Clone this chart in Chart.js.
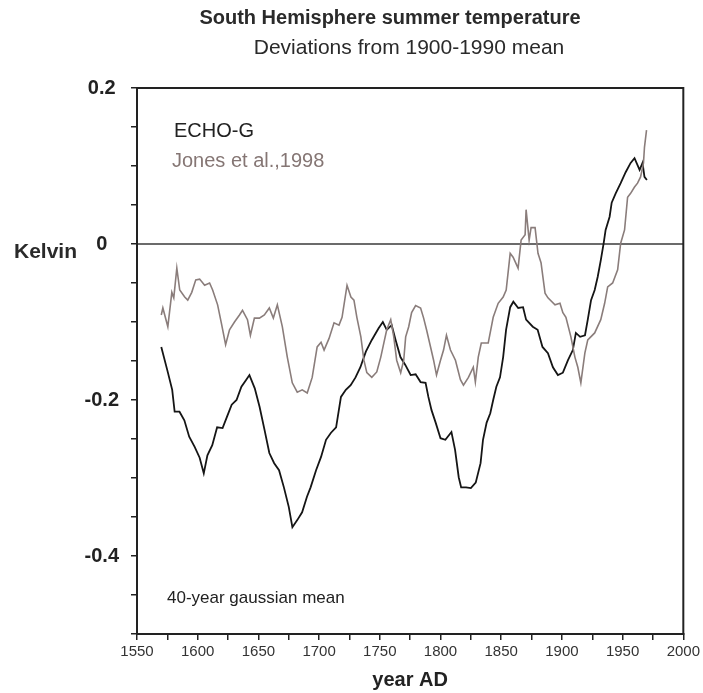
<!DOCTYPE html>
<html>
<head>
<meta charset="utf-8">
<script src="https://cdn.jsdelivr.net/npm/chart.js@4.4.1/dist/chart.umd.min.js"></script>
<style>
  html, body { margin: 0; padding: 0; background: #fff; }
</style>
</head>
<body>
<canvas id="chart" width="703" height="693"></canvas>
<script>
// ECHO-G model run, 40-year gaussian mean (K, deviation from 1900-1990)
const echoYears = [1570, 1575, 1579, 1581, 1585, 1589, 1593, 1597.5, 1601.6, 1605, 1608, 1612, 1616, 1620.5, 1624, 1628, 1632, 1636, 1640, 1642.6,
  1647, 1651, 1655, 1659, 1663, 1667, 1671, 1675, 1678, 1682, 1686, 1690, 1693, 1697.5, 1701.6, 1705.7, 1709.8, 1714, 1718, 1722,
  1726, 1730, 1734, 1738.5, 1743.4, 1749, 1752.5, 1755.7, 1759.8, 1763, 1767, 1771, 1775.4, 1779.5, 1783.6, 1787.7, 1790, 1792.6, 1796, 1800,
  1804, 1809, 1812, 1815, 1817, 1821, 1825, 1829, 1833, 1835, 1838, 1841, 1843.4, 1846, 1849, 1851.6, 1854, 1857.4, 1860, 1864,
  1868, 1870.5, 1876, 1880, 1884, 1888.5, 1892.6, 1896.7, 1900.8, 1905, 1909, 1911.5, 1915, 1919, 1921.3, 1924, 1927, 1929.5, 1932, 1934.4,
  1936, 1939.3, 1941, 1944.3, 1948.4, 1952.5, 1956.6, 1959.8, 1964, 1966.4, 1968, 1970];
const echoValues = [-0.132, -0.162, -0.187, -0.215, -0.215, -0.226, -0.247, -0.260, -0.274, -0.294, -0.271, -0.258, -0.235, -0.236, -0.222, -0.206, -0.200, -0.183, -0.174, -0.168,
  -0.185, -0.209, -0.238, -0.268, -0.281, -0.290, -0.312, -0.337, -0.363, -0.354, -0.344, -0.324, -0.312, -0.290, -0.273, -0.251, -0.242, -0.235, -0.196, -0.187,
  -0.181, -0.171, -0.158, -0.138, -0.123, -0.108, -0.100, -0.110, -0.104, -0.123, -0.145, -0.155, -0.168, -0.167, -0.177, -0.178, -0.196, -0.213, -0.229, -0.249,
  -0.251, -0.241, -0.264, -0.299, -0.312, -0.312, -0.313, -0.306, -0.281, -0.251, -0.229, -0.217, -0.200, -0.183, -0.171, -0.145, -0.110, -0.081, -0.074, -0.082,
  -0.081, -0.097, -0.106, -0.110, -0.132, -0.140, -0.158, -0.168, -0.165, -0.149, -0.136, -0.114, -0.119, -0.117, -0.097, -0.072, -0.059, -0.042, -0.021, 0.001,
  0.018, 0.035, 0.053, 0.065, 0.078, 0.092, 0.104, 0.110, 0.095, 0.104, 0.086, 0.082];

// Jones et al., 1998 reconstruction
const jonesYears = [1570, 1571.3, 1575.4, 1578.7, 1580.3, 1582.8, 1585.2, 1589.3, 1591.8, 1595.1, 1598.4, 1601.6, 1605.7, 1609.8, 1612.3, 1616.4, 1619.7, 1623, 1626.2, 1630.3,
  1634.4, 1636.9, 1641, 1643.4, 1646.7, 1650.8, 1654.9, 1659, 1662.3, 1665.6, 1669.7, 1673.8, 1677.9, 1682, 1686.1, 1690.2, 1694.3, 1698.4, 1701.6, 1704.1,
  1708.2, 1712.3, 1716.4, 1718.9, 1723, 1726.2, 1728.7, 1731.1, 1734.4, 1736.9, 1739.3, 1743.4, 1747.5, 1750.8, 1753.3, 1755.7, 1759, 1761.5, 1763.9, 1767.2,
  1769.7, 1771.3, 1773.8, 1776.2, 1779.5, 1783.6, 1786.1, 1788.5, 1791.8, 1794.3, 1796.7, 1800, 1802.5, 1804.9, 1808.2, 1812.3, 1816.4, 1818.9, 1823, 1827,
  1828.7, 1831.1, 1833.6, 1839.3, 1843.4, 1847.5, 1851.6, 1854.1, 1857.4, 1859.8, 1863.9, 1866.4, 1869.7, 1870.5, 1873, 1874.6, 1877.9, 1880.3, 1882.8, 1886.1,
  1888.5, 1894.3, 1898.4, 1900.8, 1903.3, 1907.4, 1910.7, 1913.1, 1915.6, 1918.9, 1921.3, 1927, 1932, 1935.2, 1937.7, 1941.8, 1945.9, 1948.4, 1951.6, 1954.1,
  1956.6, 1959.8, 1962.3, 1964.8, 1967.2, 1968, 1969.7];
const jonesValues = [-0.091, -0.082, -0.106, -0.062, -0.069, -0.031, -0.059, -0.068, -0.072, -0.062, -0.046, -0.045, -0.053, -0.050, -0.059, -0.078, -0.103, -0.129, -0.110, -0.100,
  -0.091, -0.085, -0.097, -0.117, -0.095, -0.095, -0.091, -0.082, -0.095, -0.078, -0.106, -0.145, -0.178, -0.190, -0.187, -0.191, -0.171, -0.132, -0.126, -0.136,
  -0.121, -0.101, -0.104, -0.094, -0.053, -0.068, -0.072, -0.094, -0.119, -0.149, -0.165, -0.171, -0.164, -0.145, -0.127, -0.110, -0.097, -0.119, -0.149, -0.165,
  -0.149, -0.119, -0.106, -0.088, -0.079, -0.082, -0.095, -0.110, -0.132, -0.149, -0.168, -0.149, -0.136, -0.117, -0.136, -0.149, -0.174, -0.181, -0.171, -0.158,
  -0.177, -0.145, -0.127, -0.127, -0.094, -0.076, -0.068, -0.059, -0.012, -0.017, -0.031, 0.005, 0.012, 0.044, 0.005, 0.021, 0.021, -0.012, -0.024, -0.063,
  -0.069, -0.078, -0.076, -0.088, -0.094, -0.119, -0.145, -0.158, -0.178, -0.140, -0.123, -0.114, -0.097, -0.076, -0.055, -0.050, -0.033, 0.001, 0.018, 0.060,
  0.065, 0.073, 0.078, 0.086, 0.104, 0.124, 0.146];

const xTickLabels = [1550, 1600, 1650, 1700, 1750, 1800, 1850, 1900, 1950, 2000];
const yTickLabels = [0.2, 0, -0.2, -0.4];

const FONT = 'Arial, "Liberation Sans", Helvetica, sans-serif';
Chart.defaults.font.family = FONT;
Chart.defaults.color = '#222';

const toPoints = (xs, ys) => xs.map((x, i) => ({ x, y: ys[i] }));

// zero line, frame and the free-standing texts
const frame = {
  id: 'frame',
  beforeDatasetsDraw(chart) {
    const { ctx, chartArea: a, scales: { y } } = chart;
    const y0 = y.getPixelForValue(0);
    ctx.save();
    ctx.strokeStyle = '#3a3a3a';
    ctx.lineWidth = 1.3;
    ctx.beginPath();
    ctx.moveTo(a.left, y0);
    ctx.lineTo(a.right, y0);
    ctx.stroke();
    ctx.restore();
  },
  afterDraw(chart) {
    const { ctx, chartArea: a, scales: { y } } = chart;
    ctx.save();
    ctx.strokeStyle = '#222';
    ctx.lineWidth = 2;
    ctx.strokeRect(a.left, a.top, a.right - a.left, a.bottom - a.top);

    ctx.textBaseline = 'middle';
    ctx.textAlign = 'center';
    ctx.fillStyle = '#2a2a2a';
    ctx.font = 'bold 20px ' + FONT;
    ctx.fillText('South Hemisphere summer temperature', 390, 18);
    ctx.font = '21px ' + FONT;
    ctx.fillText('Deviations from 1900-1990 mean', 409, 48);

    ctx.textAlign = 'left';
    ctx.font = 'bold 21px ' + FONT;
    ctx.fillText('Kelvin', 14, y.getPixelForValue(0) + 8);

    ctx.font = '20px ' + FONT;
    ctx.fillStyle = '#222';
    ctx.fillText('ECHO-G', a.left + 37, 131);
    ctx.fillStyle = '#857674';
    ctx.fillText('Jones et al.,1998', a.left + 35, 161);

    ctx.fillStyle = '#222';
    ctx.font = '17px ' + FONT;
    ctx.fillText('40-year gaussian mean', a.left + 30, 598);
    ctx.restore();
  }
};

new Chart(document.getElementById('chart'), {
  type: 'line',
  data: {
    datasets: [
      {
        label: 'Jones et al.,1998',
        data: toPoints(jonesYears, jonesValues),
        borderColor: '#8a7d7b',
        borderWidth: 1.6,
        pointRadius: 0,
        tension: 0
      },
      {
        label: 'ECHO-G',
        data: toPoints(echoYears, echoValues),
        borderColor: '#151515',
        borderWidth: 1.8,
        pointRadius: 0,
        tension: 0
      }
    ]
  },
  options: {
    responsive: false,
    animation: false,
    layout: { padding: { left: 0, right: 17, top: 88, bottom: 0 } },
    plugins: {
      legend: { display: false },
      tooltip: { enabled: false }
    },
    scales: {
      x: {
        type: 'linear',
        min: 1550,
        max: 2000,
        afterFit: (scale) => { scale.height = 59; },
        border: { display: true, color: '#222', width: 2 },
        grid: { drawOnChartArea: false, drawTicks: true, tickLength: 6, color: '#222', lineWidth: 1.5 },
        ticks: {
          stepSize: 25,
          autoSkip: false,
          maxRotation: 0,
          padding: 3,
          color: '#333',
          font: { size: 15 },
          callback: (v) => xTickLabels.includes(v) ? String(v) : ''
        },
        title: {
          display: true,
          text: 'year AD',
          color: '#222',
          font: { size: 20, weight: 'bold' },
          padding: { top: 0, bottom: 1 }
        }
      },
      y: {
        min: -0.5,
        max: 0.2,
        afterFit: (scale) => { scale.width = 137; },
        border: { display: true, color: '#222', width: 2 },
        grid: { drawOnChartArea: false, drawTicks: true, tickLength: 6, color: '#222', lineWidth: 1.5 },
        ticks: {
          stepSize: 0.05,
          autoSkip: false,
          padding: 12,
          crossAlign: 'center',
          color: '#222',
          font: { size: 20, weight: 'bold' },
          callback: (v) => {
            const hit = yTickLabels.find(t => Math.abs(t - v) < 1e-6);
            return hit === undefined ? '' : String(hit);
          }
        }
      }
    }
  },
  plugins: [frame]
});
</script>
</body>
</html>
